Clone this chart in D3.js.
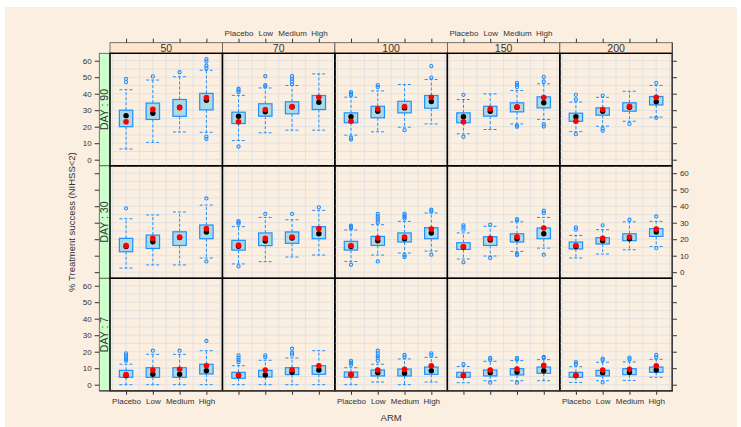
<!DOCTYPE html>
<html>
<head>
<meta charset="utf-8">
<script src="https://cdn.jsdelivr.net/npm/d3@7/dist/d3.min.js"></script>
<style>
  body { margin: 0; background: #ffffff; }
  text { font-family: "Liberation Sans", Arial, sans-serif; fill: #333; }
</style>
</head>
<body>
<div id="chart"></div>
<script>
// panels: rows = day (top to bottom), columns = dose
var days = ["90", "30", "7"];
var doses = ["50", "70", "100", "150", "200"];
var arms = ["Placebo", "Low", "Medium", "High"];
var yTicks = [0, 10, 20, 30, 40, 50, 60];

// [day][dose][arm]
var q1 = [
  [[20, 24.4, 26.3, 30.2], [21.9, 26.4, 27.8, 30.4], [22.4, 25.4, 28.4, 31.2], [22.4, 26.4, 29, 31.4], [23.3, 27, 29.4, 33.2]],
  [[12.4, 14.4, 16.2, 20.3], [13.4, 16.1, 17.5, 20.3], [13.4, 16.2, 18.3, 20.3], [13.8, 16.2, 18.3, 20.3], [14.1, 17.1, 19.1, 21.7]],
  [[4.5, 4.5, 4.5, 6.5], [3.9, 4.7, 6.1, 6.3], [4.5, 5.3, 5.3, 6.3], [4.5, 5.3, 5.9, 6.9], [4.5, 5.3, 6.1, 7.5]]
];
var q3 = [
  [[30, 34.3, 36.5, 40.2], [28.8, 33.9, 35.1, 38.9], [28.4, 32.4, 35.4, 38.9], [28.4, 32.4, 34.5, 38.1], [28.2, 31.4, 34.5, 38.3]],
  [[20.5, 22.5, 24.5, 28.6], [19.3, 23.8, 24.4, 27.6], [18.7, 21.7, 23.8, 27], [17.9, 21.5, 23.3, 26.8], [18.3, 20.9, 23.3, 26.4]],
  [[8.7, 10.3, 10.3, 12.4], [7.5, 8.7, 10.3, 11.5], [7.7, 8.9, 9.5, 10.7], [7.5, 8.9, 9.7, 10.7], [7.5, 8.7, 9.7, 10.7]]
];
var lowWhisker = [
  [[6.5, 10.5, 16.8, 16.6], [11.6, 16.3, 17.9, 17.9], [14.9, 16.9, 19.7, 21.7], [15.7, 18.3, 21.7, 24.4], [17, 20.3, 23.3, 25.8]],
  [[2.5, 4.4, 4.4, 8.6], [5, 6.4, 9.2, 10.4], [6.5, 10.4, 11.6, 12.8], [8, 9.8, 12.6, 14.6], [8.6, 11, 13.6, 15.6]],
  [[0, 0, 0, 0], [0, 0, 0, 0], [0, 1.6, 0, 1.6], [1.2, 2.4, 2.4, 2.4], [1.4, 2.4, 2.6, 4.5]]
];
var highWhisker = [
  [[42.4, 48.3, 50.3, 54.2], [39, 43.5, 45, 52], [37.9, 41.7, 45.6, 48.6], [36.5, 39.9, 41.9, 46], [34.9, 37.8, 41.5, 45]],
  [[32.4, 34.7, 36.5, 40.7], [27.6, 33.2, 31.8, 37.5], [25.6, 28.8, 30.8, 35.9], [23.8, 27.8, 30.5, 33.2], [22.3, 25.8, 30.5, 30.8]],
  [[12.4, 18.4, 18.4, 20.6], [11.5, 14.8, 16.2, 20.6], [10.3, 12.4, 15.6, 16.6], [11, 14.2, 14.6, 15.2], [10.9, 13.6, 13.8, 15.4]]
];
var medians = [
  [[26.7, 28.2, 31.8, 36], [26.3, 29, 32, 34.8], [26, 29.4, 31.4, 35.3], [26, 29.4, 31.8, 34.5], [26, 29.4, 31.8, 35.1]],
  [[15.6, 18.5, 21, 24.4], [15.8, 18.9, 20.7, 23.3], [15.6, 19.1, 20.3, 23.8], [15.3, 19.5, 20.3, 23.3], [15.6, 19.1, 20.3, 24.4]],
  [[5.5, 6.3, 6.3, 8.5], [5.6, 5.9, 7.5, 8.9], [6, 7.3, 7, 8.5], [5.6, 7.3, 7.7, 8.5], [5.6, 7.3, 7.5, 8.9]]
];
var means = [
  [[23, 30.5, 31.5, 37.6], [23, 30.4, 32.2, 37.9], [23.3, 30.8, 32.2, 37.9], [23, 30.8, 32, 37.7], [23.3, 30.4, 32.4, 37.9]],
  [[16.1, 20.5, 21.3, 26.4], [16.4, 20.5, 21.3, 26.4], [16.2, 20.7, 21.3, 26.2], [15.6, 20.5, 21.5, 26.8], [16.2, 20.5, 21.3, 26.2]],
  [[6.1, 8.9, 9.3, 11.5], [5.9, 8.9, 9.1, 11.5], [6.3, 8.9, 9.3, 11.5], [5.9, 8.9, 9.5, 11.7], [5.9, 8.9, 9.3, 11.5]]
];
var outliers = [
  [[[49, 47], [50.5], [53], [61, 59.5, 57, 55.5, 14, 12.5]],
   [[43, 42, 41, 8], [50.6, 45.2, 44.4], [50.6, 49, 47.4, 45.8], []],
   [[41, 40, 39, 13.3, 12.2], [45.2, 44], [17.9], [56.7, 49.8]],
   [[39.3, 13.9], [], [46.6, 45.4, 44, 20.7, 19.9], [50.2, 47.4, 21.5, 20.1]],
   [[39.3, 36.5, 15.5], [38.9, 18.9, 17.5], [21.7], [46.6, 25.4]]],
  [[[38.7], [], [], [44.7, 6.5]],
   [[31, 30.2, 29.4, 3.5], [35.3], [35.3], [39.3]],
   [[28.2, 27.4, 26.6, 4.5], [35.3, 33.8, 32.6, 31.4, 30.2, 6.5], [35.5, 34.5, 33.5, 32.5, 10.4, 9.2], [37.9, 36.8, 10.6]],
   [[28.4, 27.2, 25.8, 6], [28.8, 8.6], [32.2, 31.4, 11.2, 10.4], [37.3, 35.9, 10.6]],
   [[27.2, 25.8], [28.4], [31.8], [33.8, 14.6]]],
  [[[19, 17.8, 16.6, 15.4, 14.5], [20.6], [20.6], [26.5]],
   [[17.8, 16.4, 15, 13.6], [17.8, 16.6], [21.8, 19.4, 18.2], []],
   [[14.5, 13.3, 12.1], [20.6, 19, 17.4, 16.2, 14.5], [18, 16.6], [19, 17.8]],
   [[12.4], [16.2, 15.2, 1.2], [16.2, 15.2, 1.2], [16.8, 16.2]],
   [[13.6, 12.4], [15.8, 14.9, 1.4], [16.4, 15.4], [18, 16.6]]]
];

var width = 741, height = 427;
var panelLeft = 110, panelTop = 53.3, pw = 112.46, ph = 112.5;
var stripH = 10.6, stripW = 10.7;
var blue = "#1E90FF";

var svg = d3.select("#chart").append("svg")
  .attr("width", width).attr("height", height);

svg.append("rect").attr("x", 5).attr("y", 7).attr("width", 732).attr("height", 420)
  .attr("fill", "#fbefe1");

var x = d3.scaleLinear().domain([0.4, 4.6]).range([0, pw]);
var y = d3.scaleLinear().domain([-3.7, 64.5]).range([ph, 0]);

// top strips
doses.forEach(function(dose, c) {
  var g = svg.append("g").attr("transform", "translate(" + (panelLeft + c * pw) + "," + (panelTop - stripH) + ")");
  g.append("rect").attr("width", pw).attr("height", stripH)
    .attr("fill", "#ffe5cc").attr("stroke", "#555").attr("stroke-width", 0.8);
  g.append("text").attr("x", pw / 2).attr("y", stripH - 1.8)
    .attr("text-anchor", "middle").attr("font-size", "10.5px").text(dose);
});

// left strips
days.forEach(function(day, r) {
  var g = svg.append("g").attr("transform", "translate(" + (panelLeft - stripW) + "," + (panelTop + r * ph) + ")");
  g.append("rect").attr("width", stripW).attr("height", ph)
    .attr("fill", "#ccffcc").attr("stroke", "#555").attr("stroke-width", 0.8);
  g.append("text").attr("transform", "translate(" + (stripW - 1.8) + "," + (ph / 2) + ") rotate(-90)")
    .attr("text-anchor", "middle").attr("font-size", "10.5px").text("DAY : " + day);
});

function panel(r, c) {
  var g = svg.append("g").attr("transform", "translate(" + (panelLeft + c * pw) + "," + (panelTop + r * ph) + ")");

  // grid
  g.selectAll(".vg").data(d3.range(0.5, 4.6, 0.5)).enter().append("line")
    .attr("x1", function(d) { return x(d); }).attr("x2", function(d) { return x(d); })
    .attr("y1", 0).attr("y2", ph).attr("stroke", "#e2e2e2").attr("stroke-width", 1);
  g.selectAll(".hg").data(d3.range(0, 61, 5)).enter().append("line")
    .attr("y1", function(d) { return y(d); }).attr("y2", function(d) { return y(d); })
    .attr("x1", 0).attr("x2", pw).attr("stroke", "#e2e2e2").attr("stroke-width", 1);

  var bw = (x(1.25) - x(1));
  arms.forEach(function(arm, a) {
    var cx = x(a + 1);
    // whiskers
    g.append("line").attr("x1", cx).attr("x2", cx)
      .attr("y1", y(q3[r][c][a])).attr("y2", y(highWhisker[r][c][a]))
      .attr("stroke", blue).attr("stroke-dasharray", "3,2");
    g.append("line").attr("x1", cx).attr("x2", cx)
      .attr("y1", y(q1[r][c][a])).attr("y2", y(lowWhisker[r][c][a]))
      .attr("stroke", blue).attr("stroke-dasharray", "3,2");
    [highWhisker[r][c][a], lowWhisker[r][c][a]].forEach(function(v) {
      g.append("line").attr("x1", cx - bw).attr("x2", cx + bw)
        .attr("y1", y(v)).attr("y2", y(v))
        .attr("stroke", blue).attr("stroke-dasharray", "3,2");
    });
    // box
    g.append("rect").attr("x", cx - bw).attr("width", 2 * bw)
      .attr("y", y(q3[r][c][a])).attr("height", y(q1[r][c][a]) - y(q3[r][c][a]))
      .attr("fill", "#add8e6").attr("stroke", blue).attr("stroke-width", 1.2);
    // outliers
    g.selectAll(null).data(outliers[r][c][a]).enter().append("circle")
      .attr("cx", cx).attr("cy", function(d) { return y(d); }).attr("r", 1.6)
      .attr("fill", "none").attr("stroke", blue).attr("stroke-width", 1.1);
    // median and mean
    g.append("circle").attr("cx", cx).attr("cy", y(medians[r][c][a])).attr("r", 2.7).attr("fill", "#000");
    g.append("circle").attr("cx", cx).attr("cy", y(means[r][c][a])).attr("r", 2.8).attr("fill", "#ff0000");
  });

  g.append("rect").attr("width", pw).attr("height", ph)
    .attr("fill", "none").attr("stroke", "#000").attr("stroke-width", 1.4);
}

days.forEach(function(d, r) { doses.forEach(function(e, c) { panel(r, c); }); });

function styleAxis(sel) {
  sel.select(".domain").remove();
  sel.selectAll("line").attr("stroke", "#333");
  sel.selectAll("text").attr("font-size", "8px").style("font-family", "'Liberation Sans', Arial, sans-serif");
}

// y axes
days.forEach(function(d, r) {
  var la = svg.append("g").attr("transform", "translate(" + (panelLeft - stripW) + "," + (panelTop + r * ph) + ")")
    .call(d3.axisLeft(y).tickValues(yTicks).tickSize(4.6).tickPadding(3)
      .tickFormat(function(v) { return r === 1 ? "" : v; }));
  styleAxis(la);
  var ra = svg.append("g").attr("transform", "translate(" + (panelLeft + 5 * pw) + "," + (panelTop + r * ph) + ")")
    .call(d3.axisRight(y).tickValues(yTicks).tickSize(4.6).tickPadding(3)
      .tickFormat(function(v) { return r === 1 ? v : ""; }));
  styleAxis(ra);
});

// x axes
doses.forEach(function(d, c) {
  var ta = svg.append("g").attr("transform", "translate(" + (panelLeft + c * pw) + "," + (panelTop - stripH) + ")")
    .call(d3.axisTop(x).tickValues([1, 2, 3, 4]).tickSize(4).tickPadding(3)
      .tickFormat(function(v) { return c % 2 === 1 ? arms[v - 1] : ""; }));
  styleAxis(ta);
  var ba = svg.append("g").attr("transform", "translate(" + (panelLeft + c * pw) + "," + (panelTop + 3 * ph) + ")")
    .call(d3.axisBottom(x).tickValues([1, 2, 3, 4]).tickSize(4).tickPadding(4)
      .tickFormat(function(v) { return c % 2 === 0 ? arms[v - 1] : ""; }));
  styleAxis(ba);
});

// outer frame lines
svg.append("line").attr("x1", panelLeft + 5 * pw).attr("x2", panelLeft + 5 * pw)
  .attr("y1", panelTop - stripH).attr("y2", panelTop + 3 * ph).attr("stroke", "#444").attr("stroke-width", 1.2);
svg.append("line").attr("x1", panelLeft - stripW).attr("x2", panelLeft + 5 * pw)
  .attr("y1", panelTop + 3 * ph).attr("y2", panelTop + 3 * ph).attr("stroke", "#444").attr("stroke-width", 1.2);

svg.append("text").attr("x", panelLeft + 2.5 * pw).attr("y", 421)
  .attr("text-anchor", "middle").attr("font-size", "9.5px").text("ARM");
svg.append("text").attr("transform", "translate(75," + (panelTop + 1.5 * ph) + ") rotate(-90)")
  .attr("text-anchor", "middle").attr("font-size", "9.5px").text("% Treatment success (NIHSS<2)");
</script>
</body>
</html>
